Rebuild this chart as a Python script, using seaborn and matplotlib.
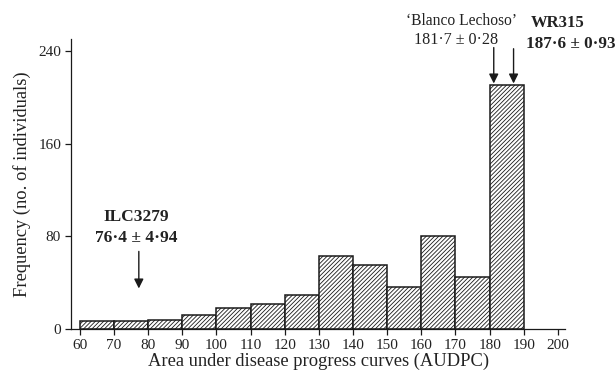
import matplotlib
matplotlib.use("Agg")
import matplotlib.pyplot as plt
import seaborn as sns
import numpy as np
import pandas as pd

# Data
bin_left = [60, 70, 80, 90, 100, 110, 120, 130, 140, 150, 160, 170, 180]
counts = [7, 7, 8, 12, 18, 22, 29, 63, 55, 36, 80, 45, 211]
bin_edges = list(range(60, 200, 10))
x_ticks = list(range(60, 201, 10))
y_ticks = [0, 80, 160, 240]

sns.set_theme(style="ticks")
plt.rcParams['font.family'] = ['Liberation Serif', 'DejaVu Serif']
plt.rcParams['hatch.linewidth'] = 0.6
plt.rcParams['hatch.color'] = '#1a1a1a'

df = pd.DataFrame({"AUDPC": [b + 5 for b in bin_left], "count": counts})

fig = plt.figure(figsize=(6.16, 3.78), dpi=100)
ax = fig.add_axes([0.115, 0.1296, 0.803, 0.766])

sns.histplot(data=df, x="AUDPC", weights="count", bins=bin_edges, ax=ax,
             color="white", edgecolor="#1a1a1a", linewidth=1.1, alpha=1)
for p in ax.patches:
    p.set_hatch("////////")
    p.set_facecolor("white")

ax.set_xlim(57.4, 202.2)
ax.set_ylim(0, 250)
ax.set_xticks(x_ticks)
ax.set_yticks(y_ticks)
ax.tick_params(axis='both', labelsize=11, length=4, width=0.9, color='#1a1a1a',
               labelcolor='#222222', direction='out', pad=3)
for s in ['top', 'right']:
    ax.spines[s].set_visible(False)
for s in ['left', 'bottom']:
    ax.spines[s].set_linewidth(0.9)
    ax.spines[s].set_color('#1a1a1a')

ax.set_xlabel("Area under disease progress curves (AUDPC)", fontsize=13.3,
              color='#222222', labelpad=1)
ax.set_ylabel("Frequency (no. of individuals)", fontsize=13.3,
              color='#222222', labelpad=5)

arrow_kw = dict(arrowstyle="-|>", color="#1a1a1a", lw=1.0, mutation_scale=14,
                shrinkA=0, shrinkB=0)
# ILC3279
ax.annotate("", xy=(77.3, 35), xytext=(77.3, 67), arrowprops=arrow_kw)
ax.text(76.5, 97, "ILC3279", ha="center", va="center", fontsize=12.5,
        fontweight="bold", color='#222222')
ax.text(76.5, 79, "76·4 ± 4·94", ha="center", va="center", fontsize=12.5,
        fontweight="bold", color='#222222')
# Blanco Lechoso
ax.annotate("", xy=(181.2, 212), xytext=(181.2, 243), arrowprops=arrow_kw,
            annotation_clip=False)
ax.text(171.8, 266, "‘Blanco Lechoso’", ha="center", va="center", fontsize=11.2,
        color='#222222', clip_on=False)
ax.text(170.3, 249.5, "181·7 ± 0·28", ha="center", va="center", fontsize=11.6,
        color='#222222', clip_on=False)
# WR315
ax.annotate("", xy=(187.0, 212), xytext=(187.0, 242), arrowprops=arrow_kw,
            annotation_clip=False)
ax.text(199.8, 264, "WR315", ha="center", va="center", fontsize=12,
        fontweight="bold", color='#222222', clip_on=False)
ax.text(203.6, 246.5, "187·6 ± 0·93", ha="center", va="center", fontsize=12.3,
        fontweight="bold", color='#222222', clip_on=False)

fig.savefig("out.png", dpi=100)
